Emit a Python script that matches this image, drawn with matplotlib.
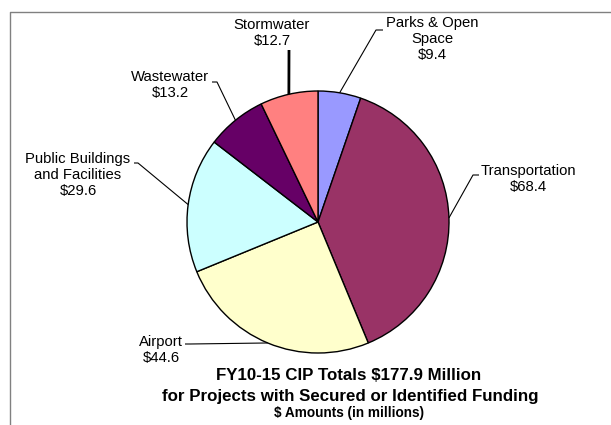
import numpy as np
import matplotlib
matplotlib.use("Agg")
import matplotlib.pyplot as plt

# data, clockwise from 12 o'clock
categories = ["Parks & Open\nSpace", "Transportation", "Airport",
              "Public Buildings\nand Facilities", "Wastewater", "Stormwater"]
values = [9.4, 68.4, 44.6, 29.6, 13.2, 12.7]
colors = ["#9999FF", "#993366", "#FFFFCC", "#CCFFFF", "#660066", "#FF8080"]

title_lines = ["FY10-15 CIP Totals $177.9 Million",
               "for Projects with Secured or Identified Funding"]
subtitle = "$ Amounts (in millions)"

# layout in pixels (y measured from top)
W, H = 611, 425
center = (318, 222)
radius = 131
label_pos = [(432, 39), (528, 179), (161, 350), (78, 175), (170, 85), (272, 33)]
elbow = [(376, 30), (473, 175), (190, 344), (138, 163), (217, 82), (289, 50)]
tail = [(383, 30), (479, 175), (185, 344), (134, 163), (212, 82), None]
leader_lw = [0.8, 0.8, 0.8, 0.8, 0.8, 2.0]

plt.rcParams["font.family"] = ["Liberation Sans", "DejaVu Sans"]

fig = plt.figure(figsize=(W / 100, H / 100), dpi=100)
ax = fig.add_axes([0, 0, 1, 1])

# y axis is inverted, so startangle -90 / counterclock=True reads as
# starting at the top and going clockwise on screen
ax.pie(values, colors=colors, startangle=-90, counterclock=True,
       center=center, radius=radius,
       wedgeprops={"edgecolor": "black", "linewidth": 1.0})
ax.set_xlim(0, W)
ax.set_ylim(H, 0)
ax.set_aspect("auto")
ax.axis("off")

total = sum(values)
start = 0.0
for i, v in enumerate(values):
    mid = (start + v / 2) / total * 2 * np.pi
    start += v
    rx = center[0] + radius * np.sin(mid)
    ry = center[1] - radius * np.cos(mid)
    xs = [rx, elbow[i][0]]
    ys = [ry, elbow[i][1]]
    if tail[i] is not None:
        xs.append(tail[i][0])
        ys.append(tail[i][1])
    ax.plot(xs, ys, color="black", lw=leader_lw[i], solid_capstyle="butt")
    ax.text(label_pos[i][0], label_pos[i][1], f"{categories[i]}\n${v:.1f}",
            ha="center", va="center", fontsize=10.7, color="black")

ax.text(349, 376, title_lines[0], ha="center", va="center",
        fontsize=12.2, fontweight="bold")
ax.text(350, 397, title_lines[1], ha="center", va="center",
        fontsize=12.2, fontweight="bold")
ax.text(349, 413, subtitle, ha="center", va="center",
        fontsize=9.8, fontweight="bold")

# chart border (only top and left edges are visible)
ax.plot([9.5, 9.5, W], [H, 11.5, 11.5], color="#808080", lw=1.0)

fig.savefig("out.png", dpi=100)
